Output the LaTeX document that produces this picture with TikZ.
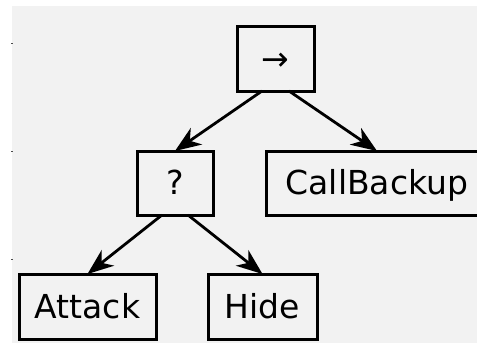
\documentclass[tikz,border=0pt]{standalone}
\usepackage{fontspec}
\setmainfont{DejaVu Sans}
\usetikzlibrary{arrows.meta}

\tikzset{
  treebox/.style={draw=black, line width=3pt, fill=none, inner sep=0pt, outer sep=0pt,
    font=\fontsize{33}{38}\selectfont, text height=23pt, text depth=0pt, anchor=center},
  treeedge/.style={draw=black, line width=2.8pt,
    -{Stealth[length=26pt, width=20pt, inset=8pt]}},
  axistick/.style={draw=black!70, line width=1pt}
}

\begin{document}
\begin{tikzpicture}[x=1pt, y=-1pt]
  \useasboundingbox (0,0) rectangle (477,343);
  \begin{scope}
    \clip (0,0) rectangle (477,343);
    % plot area background
    \fill[black!5] (12,6) rectangle (477,342.5);
    % small axis ticks on the left edge
    \draw[axistick] (11,43) -- (13,43);
    \draw[axistick] (11,151) -- (13,151);
    \draw[axistick] (11,259) -- (13,259);

    % behaviour tree nodes
    \node[treebox, minimum width=77pt, minimum height=65pt] (seq) at (275.5,58.5) {→};
    \node[treebox, minimum width=76pt, minimum height=64pt] (sel) at (175,183) {?};
    \node[treebox, minimum width=222pt, minimum height=64pt] (call) at (377,183) {CallBackup};
    \node[treebox, minimum width=137pt, minimum height=65pt] (attack) at (87.5,306.5) {Attack};
    \node[treebox, minimum width=109pt, minimum height=65pt] (hide) at (262.5,306.5) {Hide};

    % edges
    \draw[treeedge] ([xshift=-13.5pt]seq.south) -- (sel.north);
    \draw[treeedge] ([xshift=13.5pt]seq.south) -- (call.north);
    \draw[treeedge] ([xshift=-13pt]sel.south) -- (attack.north);
    \draw[treeedge] ([xshift=13pt]sel.south) -- (hide.north);
  \end{scope}
\end{tikzpicture}
\end{document}
